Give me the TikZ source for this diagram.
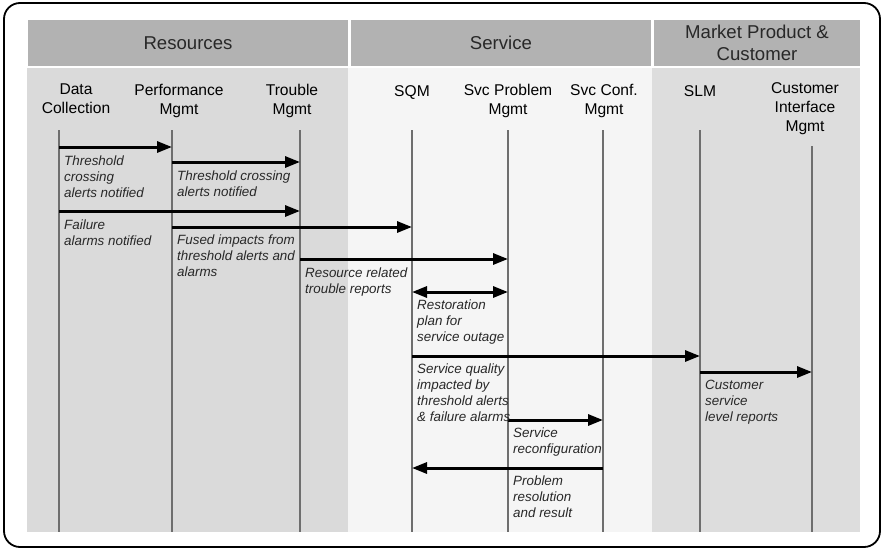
\documentclass[tikz,border=0pt]{standalone}
\usepackage{fontspec}
\setmainfont{Liberation Sans}
\usetikzlibrary{arrows.meta}
\definecolor{bandgray}{RGB}{178,178,178}
\definecolor{resgray}{RGB}{218,218,218}
\definecolor{svcgray}{RGB}{245,245,245}
\definecolor{mktgray}{RGB}{221,221,221}
\definecolor{lifegray}{RGB}{110,110,110}
\definecolor{inkgray}{RGB}{40,40,40}
\begin{document}
\begin{tikzpicture}[x=1pt,y=-1pt,
  frame/.style={draw=black,line width=1.8pt,rounded corners=16pt},
  band/.style={fill=bandgray,draw=none,inner sep=0pt,align=center,
    text=inkgray,font=\fontsize{18.6}{22}\selectfont},
  colhead/.style={anchor=north,inner sep=0pt,align=center,text=black,
    font=\fontsize{15.6}{19}\selectfont},
  lbl/.style={anchor=north west,inner sep=0pt,align=left,text=inkgray,
    font=\fontsize{13.4}{16}\selectfont\itshape},
  lifeline/.style={draw=lifegray,line width=2pt},
  msg/.style={draw=black,line width=3pt,-{Triangle[length=15pt,width=11pt]}},
  dmsg/.style={draw=black,line width=3pt,{Triangle[length=15pt,width=11pt]}-{Triangle[length=15pt,width=11pt]}}
]
\useasboundingbox (0,0) rectangle (882,549);
\fill[white] (0,0) rectangle (882,549);

% domain panels
\fill[resgray] (27,68) rectangle (348,532);
\fill[svcgray] (348,68) rectangle (652,532);
\fill[mktgray] (652,68) rectangle (860,532);

% domain title bands
\node[band,minimum width=320pt,minimum height=46pt] (resources) at (188,43) {Resources};
\node[band,minimum width=300pt,minimum height=46pt] (service) at (501,43) {Service};
\node[band,minimum width=206pt,minimum height=46pt] (market) at (757,43) {Market Product \&\\Customer};

% process headings
\node[colhead] (hdc) at (76,84) {Data\\Collection};
\node[colhead] (hpm) at (179,84) {Performance\\Mgmt};
\node[colhead] (htm) at (292,84) {Trouble\\Mgmt};
\node[colhead] (hsqm) at (412,85) {SQM};
\node[colhead] (hspm) at (508,84) {Svc Problem\\Mgmt};
\node[colhead] (hscm) at (604,84) {Svc Conf.\\Mgmt};
\node[colhead] (hslm) at (700,85) {SLM};
\node[colhead] (hcim) at (805,82) {Customer\\Interface\\Mgmt};

% lifeline tops
\coordinate (dc) at (59,130);
\coordinate (pm) at (172,130);
\coordinate (tm) at (300,130);
\coordinate (sqm) at (412,130);
\coordinate (spm) at (508,130);
\coordinate (scm) at (603,130);
\coordinate (slm) at (700,130);
\coordinate (cim) at (812,146);

% lifelines
\foreach \p in {dc,pm,tm,sqm,spm,scm,slm,cim}
  \draw[lifeline] (\p) -- (\p |- 0,532);

% messages
\draw[msg] (dc |- 0,147) -- (pm |- 0,147);
\draw[msg] (pm |- 0,162) -- (tm |- 0,162);
\draw[msg] (dc |- 0,211) -- (tm |- 0,211);
\draw[msg] (pm |- 0,227) -- (sqm |- 0,227);
\draw[msg] (tm |- 0,259) -- (spm |- 0,259);
\draw[dmsg] (sqm |- 0,292) -- (spm |- 0,292);
\draw[msg] (sqm |- 0,356) -- (slm |- 0,356);
\draw[msg] (slm |- 0,372) -- (cim |- 0,372);
\draw[msg] (spm |- 0,420) -- (scm |- 0,420);
\draw[msg] (scm |- 0,468) -- (sqm |- 0,468);

% message labels
\node[lbl] (l1) at (64,155.5) {Threshold\\crossing\\alerts notified};
\node[lbl] (l2) at (177,170.5) {Threshold crossing\\alerts notified};
\node[lbl] (l3) at (64,219.5) {Failure\\alarms notified};
\node[lbl] (l4) at (177,234.5) {Fused impacts from\\threshold alerts and\\alarms};
\node[lbl] (l5) at (305,267.5) {Resource related\\trouble reports};
\node[lbl] (l6) at (417,299.5) {Restoration\\plan for\\service outage};
\node[lbl] (l7) at (417,363.5) {Service quality\\impacted by\\threshold alerts\\\& failure alarms};
\node[lbl] (l8) at (705,379.5) {Customer\\service\\level reports};
\node[lbl] (l9) at (513,427.5) {Service\\reconfiguration};
\node[lbl] (l10) at (513,475.5) {Problem\\resolution\\and result};

% outer frame
\draw[frame] (4,3) rectangle (880,547);
\end{tikzpicture}
\end{document}
